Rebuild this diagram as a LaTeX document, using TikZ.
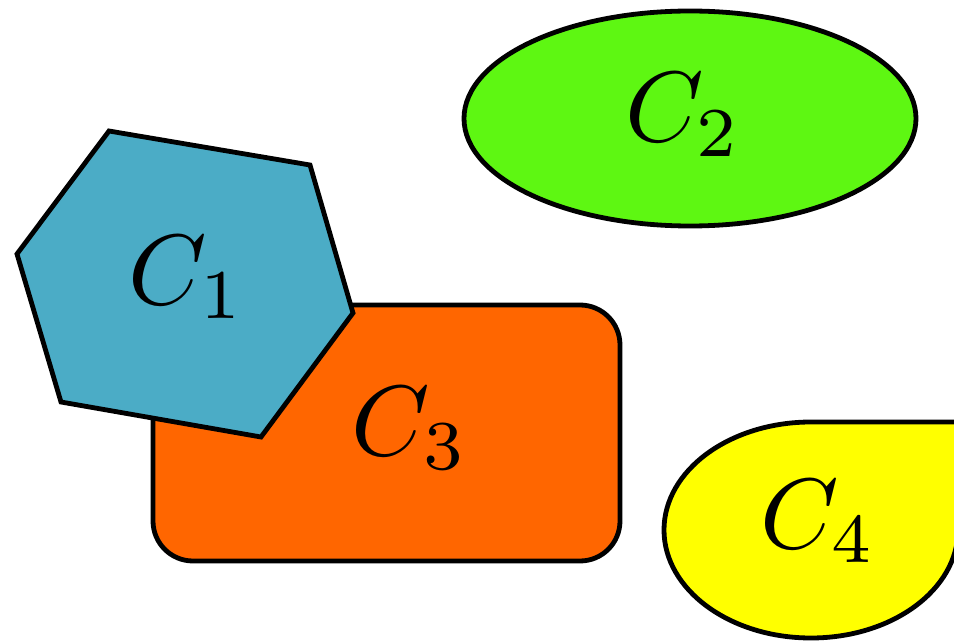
\documentclass[tikz,border=0pt]{standalone}
\definecolor{hexblue}{HTML}{4BACC6}
\definecolor{ellgreen}{HTML}{5EF712}
\definecolor{rectorange}{HTML}{FF6600}
\definecolor{dropyellow}{HTML}{FFFF00}
\tikzset{
  shapeline/.style={draw=black, line width=2.4pt, line join=miter},
  lbl/.style={anchor=base, inner sep=0pt, scale=5},
}
\begin{document}
\begin{tikzpicture}[x=0.5pt, y=-0.5pt]
\useasboundingbox (0,0) rectangle (954,642);
\clip (0,0) rectangle (954,642);
% C3 rounded rectangle
\draw[shapeline, fill=rectorange, rounded corners=20pt] (153,305) rectangle (620,561);
% C1 hexagon
\draw[shapeline, fill=hexblue] (109,131) -- (310,165) -- (353,313) -- (261,437) -- (61,402) -- (17,254) -- cycle;
% C2 ellipse
\draw[shapeline, fill=ellgreen] (690,118.5) ellipse [x radius=226, y radius=107.5];
% C4 ellipse with one sharp corner
\draw[shapeline, fill=dropyellow] (958,422) -- (811,422)
  arc[start angle=-90, end angle=-270, x radius=147, y radius=108]
  arc[start angle=90, end angle=0, x radius=147, y radius=108] -- cycle;
% labels
\node[lbl] (c1) at (187,304) {$C_1$};
\node[lbl] (c2) at (683.5,142) {$C_2$};
\node[lbl] (c3) at (410,455) {$C_3$};
\node[lbl] (c4) at (818.5,548) {$C_4$};
\end{tikzpicture}
\end{document}
